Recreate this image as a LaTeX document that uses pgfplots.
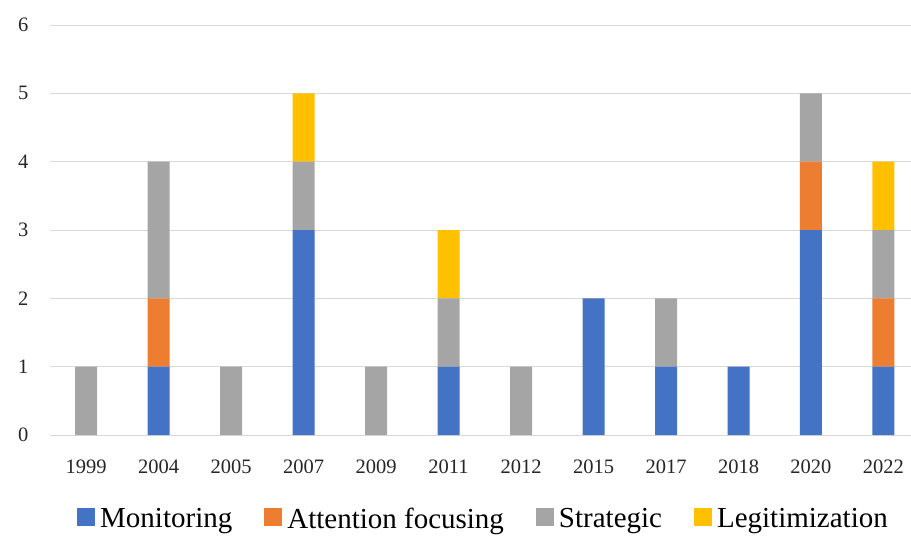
\documentclass[border=0pt]{standalone}
\usepackage{pgfplots}
\pgfplotsset{compat=1.18}
\usepackage{fontspec}
\setmainfont{Liberation Serif}
\definecolor{cM}{HTML}{4472C4}
\definecolor{cA}{HTML}{ED7D31}
\definecolor{cS}{HTML}{A5A5A5}
\definecolor{cL}{HTML}{FFC000}
\definecolor{gridc}{HTML}{D9D9D9}
\begin{document}
\begin{tikzpicture}
\path[use as bounding box] (-50pt,-101pt) rectangle (861pt,435pt);
\begin{axis}[
  at={(0,0)}, anchor=south west,
  scale only axis, width=861pt, height=410pt,
  ybar stacked, bar width=22pt,
  xmin=-0.5, xmax=11.38, ymin=0, ymax=6,
  xtick={0,...,11},
  xticklabels={1999,2004,2005,2007,2009,2011,2012,2015,2017,2018,2020,2022},
  ytick={0,...,6},
  xmajorgrids=false, ymajorgrids=true,
  grid style={gridc, line width=1pt},
  axis line style={draw=none},
  major tick length=0pt,
  tick label style={font=\fontsize{20.5}{20.5}\selectfont, text=black!85},
  xticklabel style={yshift=-21pt},
  yticklabel style={xshift=-18pt},
  /pgf/number format/assume math mode=true,
  legend style={at={(0.5035,-0.204)}, anchor=center, draw=none,
    legend columns=4, font=\fontsize{29}{29}\selectfont,
    /tikz/every odd column/.append style={column sep=3pt},
    /tikz/every even column/.append style={column sep=30pt}},
  legend image code/.code={\fill[#1] (0pt,-7pt) rectangle (18pt,11pt);},
  clip=false,
]
\addplot[fill=cM, draw=none] coordinates {(0,0) (1,1) (2,0) (3,3) (4,0) (5,1) (6,0) (7,2) (8,1) (9,1) (10,3) (11,1)};
\addplot[fill=cA, draw=none] coordinates {(0,0) (1,1) (2,0) (3,0) (4,0) (5,0) (6,0) (7,0) (8,0) (9,0) (10,1) (11,1)};
\addplot[fill=cS, draw=none] coordinates {(0,1) (1,2) (2,1) (3,1) (4,1) (5,1) (6,1) (7,0) (8,1) (9,0) (10,1) (11,1)};
\addplot[fill=cL, draw=none] coordinates {(0,0) (1,0) (2,0) (3,1) (4,0) (5,1) (6,0) (7,0) (8,0) (9,0) (10,0) (11,1)};
\legend{Monitoring, Attention focusing, Strategic, Legitimization}
\end{axis}
\end{tikzpicture}
\end{document}
